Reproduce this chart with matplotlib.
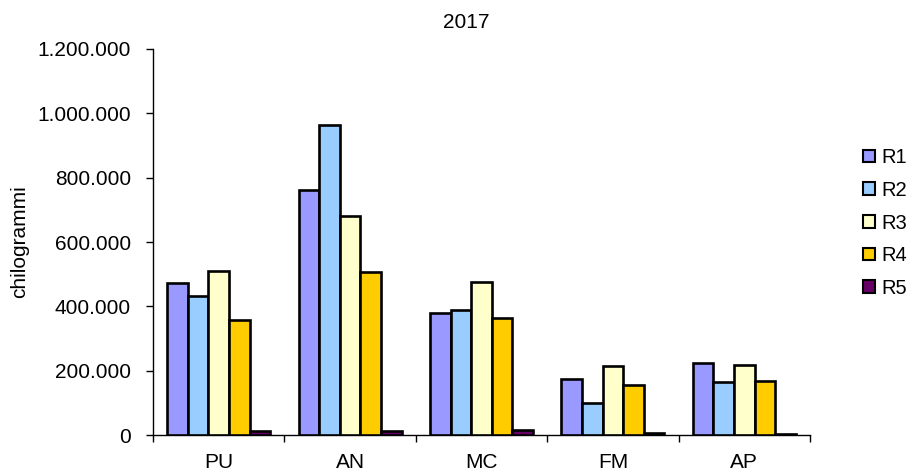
import matplotlib.pyplot as plt
import numpy as np
from matplotlib.patches import Patch
from matplotlib.ticker import FuncFormatter

categories = ["PU", "AN", "MC", "FM", "AP"]
series = ["R1", "R2", "R3", "R4", "R5"]
r1 = [472000, 762000, 379000, 174000, 224000]
r2 = [433000, 964000, 389000, 99000, 165000]
r3 = [510000, 681000, 476000, 214000, 218000]
r4 = [358000, 507000, 364000, 155000, 168000]
r5 = [12000, 12000, 15000, 5000, 3000]
colors = ["#9999ff", "#99ccff", "#ffffcc", "#ffcc00", "#660066"]

plt.rcParams["font.family"] = ["Liberation Sans", "DejaVu Sans"]
FS = 15

fig = plt.figure(figsize=(9.13, 4.73), dpi=100)
ax = fig.add_axes([153 / 913, 1 - 435 / 473, (810 - 153) / 913, (435 - 49) / 473])

x = np.arange(len(categories))
w = 0.157
for i, vals in enumerate([r1, r2, r3, r4, r5]):
    ax.bar(x + (i - 2) * w, vals, width=w, color=colors[i],
           edgecolor="black", linewidth=1.9, label=series[i], zorder=3)

ax.set_xlim(-0.5, len(categories) - 0.5)
ax.set_ylim(0, 1200000)
ax.set_yticks(np.arange(0, 1200001, 200000))
ax.yaxis.set_major_formatter(FuncFormatter(lambda v, p: f"{int(v):,}".replace(",", ".")))
# category boundaries carry the tick marks, centres carry the labels
ax.set_xticks(np.arange(-0.5, len(categories)))
ax.set_xticklabels([])
ax.set_xticks(x, minor=True)
ax.set_xticklabels(categories, minor=True)
ax.tick_params(axis="x", which="minor", length=0, pad=13, labelsize=FS)
ax.tick_params(axis="x", which="major", length=5, width=1, direction="out")
ax.tick_params(axis="y", length=5, width=1, direction="out", labelsize=FS, pad=11)
for s in ["top", "right"]:
    ax.spines[s].set_visible(False)
for s in ["left", "bottom"]:
    ax.spines[s].set_linewidth(1)
ax.set_ylabel("chilogrammi", fontsize=FS, labelpad=6)

fig.text(466 / 913, 1 - 22 / 473, "2017", ha="center", va="center", fontsize=FS)

handles = [Patch(facecolor=c, edgecolor="black", linewidth=1.5, label=s)
           for c, s in zip(colors, series)]
fig.legend(handles=handles, loc="center left", bbox_to_anchor=(863 / 913, 1 - 223 / 473),
           frameon=False, fontsize=14.5, handlelength=0.6, handleheight=0.6,
           handletextpad=0.3, labelspacing=0.68, borderpad=0, borderaxespad=0)

fig.savefig("out.png", dpi=100)
